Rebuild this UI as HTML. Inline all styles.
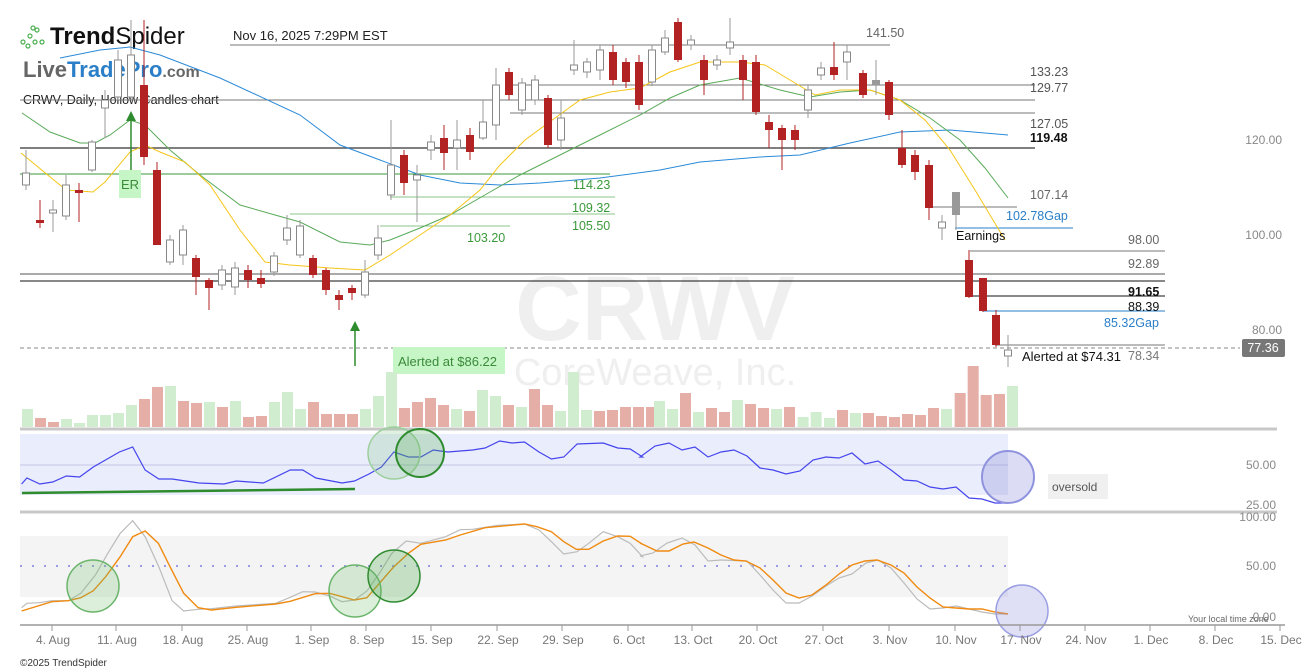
<!DOCTYPE html>
<html><head><meta charset="utf-8"><style>
html,body{margin:0;padding:0;background:#fff;}
svg{display:block;font-family:"Liberation Sans","DejaVu Sans",sans-serif;}
</style></head><body>
<svg id="s" width="1307" height="672" viewBox="0 0 1307 672" xmlns="http://www.w3.org/2000/svg">
<rect width="1307" height="672" fill="#fff"/>
<text x="655" y="340" font-size="92" font-weight="bold" fill="#efefef" text-anchor="middle">CRWV</text>
<text x="655" y="385" font-size="38" fill="#efefef" text-anchor="middle">CoreWeave, Inc.</text>
<g fill="none" stroke="#4caf50" stroke-width="1.2"><circle cx="23" cy="42" r="2"/><circle cx="30" cy="36" r="2"/><circle cx="37" cy="30" r="2"/><circle cx="28" cy="46" r="2"/><circle cx="35" cy="42" r="2"/><circle cx="42" cy="42" r="2"/><circle cx="33" cy="28" r="2"/></g>
<text x="50" y="44" font-size="24" font-weight="bold" fill="#111">Trend<tspan font-weight="normal">Spider</tspan></text>
<text x="233" y="40" font-size="13" fill="#222">Nov 16, 2025 7:29PM EST</text>
<text x="23" y="77" font-size="22" font-weight="bold" fill="#666">Live<tspan fill="#2a7fc8">TradePro</tspan><tspan font-size="16">.com</tspan></text>
<text x="23" y="104" font-size="12.5" fill="#222">CRWV, Daily, Hollow Candles chart</text>
<g id="g"></g>
</svg>
<script>
var g=document.getElementById('g'),h='';
function L(x1,y1,x2,y2,c,w,d){h+='<line x1="'+x1+'" y1="'+y1+'" x2="'+x2+'" y2="'+y2+'" stroke="'+c+'" stroke-width="'+(w||1)+'"'+(d?' stroke-dasharray="'+d+'"':'')+'/>';}
function T(x,y,t,c,s,a,b){h+='<text x="'+x+'" y="'+y+'" font-size="'+(s||12)+'" fill="'+c+'"'+(a?' text-anchor="'+a+'"':'')+(b?' font-weight="bold"':'')+'>'+t+'</text>';}
function P(pts,c,w){h+='<polyline fill="none" stroke="'+c+'" stroke-width="'+(w||1)+'" points="'+pts+'"/>';}
L(230,45,890,45,'#777');L(510,85,1035,85,'#777');L(20,100,1035,100,'#777');L(510,113,1035,113,'#777');
L(20,148,1035,148,'#555',1.5);L(20,174,610,174,'#3a9a3a');L(390,197,615,197,'#8bc48b');L(290,214,615,214,'#8bc48b');L(380,226,510,226,'#8bc48b');
L(930,207,1017,207,'#777');L(955,228,1073,228,'#2a7fc8');L(970,251,1165,251,'#777');L(20,274,1165,274,'#aaa',2);L(20,281,1165,281,'#111');
L(970,296,1165,296,'#111');L(983,311,1165,311,'#2a7fc8');L(995,345,1165,345,'#777');L(20,348,1240,348,'#888',1,'4,3');
P('60,58 100,50 130,47 160,55 220,78 300,115 340,145 380,160 420,175 460,183 500,185 540,183 600,178 660,170 700,162 760,157 800,155 850,143 900,132 950,130 1008,135','#2a8ad8');
P('22,113 50,132 80,143 95,143 110,135 130,120 145,125 170,150 200,175 240,205 275,215 300,222 340,242 370,245 390,240 420,228 450,215 490,192 520,175 560,155 600,135 640,115 670,98 700,85 740,78 780,90 810,97 840,92 870,90 900,100 930,118 960,140 985,168 1008,198','#5aaa5a');
P('21,153 66,190 93,192 105,182 130,152 145,145 160,152 185,162 210,185 240,230 265,262 290,265 330,268 365,270 390,255 420,235 450,215 480,190 500,165 525,140 555,118 580,100 610,92 640,88 670,72 700,62 740,62 765,65 790,80 815,95 840,90 870,90 900,100 925,120 950,150 975,190 1005,240','#f5c518');
var C=[[26,173,185,150,190,'h'],[40,220,223,200,228,'r'],[53,210,213,200,232,'h'],[66,185,216,175,220,'h'],[79,190,193,183,222,'r'],[92,142,170,140,172,'h'],[105,100,108,90,138,'h'],[118,60,97,50,100,'h'],[131,55,97,20,100,'h'],[144,85,157,20,165,'r'],[157,170,245,162,245,'r'],[170,240,262,235,265,'h'],[183,230,255,225,265,'h'],[196,258,277,255,295,'r'],[209,280,288,278,310,'r'],[222,270,285,265,290,'h'],[235,268,287,262,295,'h'],[248,270,280,265,288,'r'],[261,278,284,270,288,'r'],[274,256,272,252,276,'h'],[287,228,240,215,245,'h'],[300,226,255,220,258,'h'],[313,258,275,255,278,'r'],[326,270,290,268,295,'r'],[339,295,300,290,310,'r'],[352,288,293,285,300,'r'],[365,272,295,260,298,'h'],[378,238,255,225,260,'h'],[391,165,195,120,200,'h'],[404,155,183,150,195,'r'],[417,175,180,165,222,'h'],[431,142,150,135,160,'h'],[444,138,153,125,170,'r'],[457,140,148,120,170,'h'],[470,135,152,128,160,'r'],[483,122,138,100,140,'h'],[496,85,125,68,140,'h'],[509,72,95,68,100,'r'],[522,83,110,78,115,'h'],[535,80,100,75,105,'h'],[548,98,145,95,148,'r'],[561,118,140,100,150,'h'],[574,65,70,40,75,'h'],[587,62,72,58,78,'h'],[600,50,70,45,80,'h'],[613,52,80,45,85,'r'],[626,62,82,58,88,'r'],[639,62,105,55,110,'r'],[652,50,82,45,86,'h'],[665,38,52,30,55,'h'],[678,22,60,18,62,'r'],[691,40,45,35,50,'h'],[704,60,80,55,95,'r'],[717,60,65,55,70,'h'],[730,42,48,18,55,'h'],[743,60,80,55,100,'r'],[756,62,112,55,115,'r'],[769,122,130,115,148,'r'],[782,128,140,125,170,'r'],[795,130,140,125,150,'r'],[808,90,110,85,118,'h'],[821,68,75,62,80,'h'],[834,67,75,42,80,'r'],[847,52,62,45,80,'h'],[863,73,95,70,98,'r'],[876,80,85,60,95,'s'],[889,82,115,80,120,'r'],[902,148,165,130,168,'r'],[915,155,172,150,180,'r'],[929,165,208,160,220,'r'],[942,222,228,215,240,'h'],[956,192,215,192,230,'s'],[969,260,297,250,298,'r'],[983,278,311,278,312,'r'],[996,315,345,310,347,'r'],[1008,350,356,335,367,'h']];
C.forEach(function(c){var col=c[5]=='r'?'#b22222':'#999';L(c[0],c[3],c[0],c[4],col);
 if(c[5]=='h')h+='<rect x="'+(c[0]-3.5)+'" y="'+c[1]+'" width="7" height="'+Math.max(c[2]-c[1],2)+'" fill="#fff" stroke="#888"/>';
 else h+='<rect x="'+(c[0]-4)+'" y="'+c[1]+'" width="8" height="'+Math.max(c[2]-c[1],2)+'" fill="'+col+'"/>';});
L(131,175,131,118,'#2e8b2e',1.5);h+='<polygon points="126,121 136,121 131,111" fill="#2e8b2e"/>';
h+='<rect x="119" y="170" width="22" height="28" fill="#c6f5c6"/>';T(130,189,'ER','#3a8a3a',13,'middle');
L(355,366,355,328,'#2e8b2e',1.5);h+='<polygon points="350,331 360,331 355,321" fill="#2e8b2e"/>';
h+='<rect x="393" y="347" width="112" height="27" fill="#c6f5c6"/>';T(398,366,'Alerted at $86.22','#3a8a3a',13);
T(1022,361,'Alerted at $74.31','#111',13);T(956,240,'Earnings','#111',12.5);
T(866,37,'141.50','#666',12.5);T(1030,76,'133.23','#555',12.5);T(1030,92,'129.77','#555',12.5);T(1030,128,'127.05','#555',12.5);T(1030,142,'119.48','#111',12.5,0,1);
T(573,189,'114.23','#3a9a3a',12.5);T(572,212,'109.32','#3a9a3a',12.5);T(572,230,'105.50','#3a9a3a',12.5);T(467,242,'103.20','#3a9a3a',12.5);
T(1030,199,'107.14','#666',12.5);T(1006,220,'102.78<tspan>Gap</tspan>','#2a7fc8',12.5);
T(1128,244,'98.00','#666',12.5);T(1128,268,'92.89','#666',12.5);T(1128,296,'91.65','#111',12.5,0,1);T(1128,311,'88.39','#111',12.5);T(1104,327,'85.32Gap','#2a7fc8',12.5);T(1128,360,'78.34','#777',12.5);
T(1282,144,'120.00','#888',12,'end');T(1282,239,'100.00','#888',12,'end');T(1282,334,'80.00','#888',12,'end');
h+='<rect x="1242" y="339" width="43" height="18" rx="2" fill="#777"/>';T(1263,352,'77.36','#fff',12.5,'middle');
var V=[[409,'g'],[418,'r'],[422,'r'],[419,'g'],[423,'g'],[415,'g'],[415,'g'],[413,'g'],[405,'g'],[399,'r'],[387,'r'],[386,'g'],[401,'r'],[403,'r'],[402,'g'],[407,'r'],[401,'g'],[417,'r'],[416,'r'],[402,'g'],[392,'g'],[409,'g'],[402,'r'],[414,'r'],[414,'r'],[414,'r'],[409,'g'],[396,'g'],[372,'g'],[408,'r'],[402,'r'],[398,'r'],[405,'r'],[409,'g'],[411,'r'],[390,'g'],[396,'g'],[405,'r'],[407,'g'],[389,'r'],[405,'r'],[411,'g'],[372,'g'],[410,'g'],[411,'r'],[410,'r'],[407,'r'],[407,'r'],[407,'r']];
V.forEach(function(v,k){h+='<rect x="'+(22+13*k)+'" y="'+v[0]+'" width="11" height="'+(427-v[0])+'" fill="'+(v[1]=='g'?'#d0eecf':'#e5aea6')+'"/>';});
var V2=[[30,401,'g'],[69,409,'g'],[108,393,'r'],[147,412,'g'],[186,408,'r'],[225,412,'r'],[264,400,'g'],[303,404,'r'],[342,408,'r'],[381,409,'g'],[420,407,'r'],[461,417,'g'],[500,412,'g'],[540,418,'g'],[579,410,'r'],[618,413,'g'],[657,413,'r'],[696,416,'r'],[735,417,'r'],[774,414,'r'],[813,415,'r'],[852,408,'r'],[891,409,'g'],[932,393,'r'],[971,366,'r'],[1010,395,'r'],[1050,394,'r'],[1089,386,'g']];
V2.forEach(function(v){h+='<rect x="'+(640+v[0]/3+4)+'" y="'+v[1]+'" width="11" height="'+(427-v[1])+'" fill="'+(v[2]=='g'?'#d0eecf':'#e5aea6')+'"/>';});
L(20,429,1277,429,'#c8c8c8',3);L(20,512,1277,512,'#c8c8c8',3);
h+='<rect x="20" y="434" width="988" height="61" fill="#eaedfb"/>';L(20,465,1008,465,'#d6d9f0',2);
T(1276,469,'50.00','#888',12,'end');T(1276,509,'25.00','#888',12,'end');
L(22,493,355,489,'#2e8b2e',2.5);
var r1=[[52,484],[65,478],[96,484],[127,482],[160,476],[192,477],[225,467],[288,452],[320,447],[350,470],[383,479],[415,479],[480,483],[540,484],[570,481],[635,483],[700,470],[730,470],[762,478],[825,483],[855,481],[890,474],[920,467],[950,452],[985,457],[1015,457],[1045,450],[1080,452],[1140,450],[1170,448],[1205,441],[1235,443],[1265,442],[1300,452],[1330,459],[1360,457],[1392,444],[1455,443],[1490,448],[1520,449],[1550,457]].map(function(p){return (p[0]/2.412).toFixed(1)+','+p[1]}).join(' ');
P(r1+' 640,457 655,446 669,443 682,450 695,447 708,457 721,452 734,450 747,456 760,468 773,470 786,474 800,471 813,460 826,457 839,458 852,453 865,464 878,461 891,470 904,480 917,481 930,487 943,489 956,487 969,498 982,499 995,503 1008,503','#4444ee',1.2);
h+='<circle cx="394" cy="453" r="26" fill="rgba(120,190,120,0.22)" stroke="#9ccf9c" stroke-width="1.5"/>';
h+='<circle cx="420" cy="453" r="24" fill="rgba(80,170,80,0.25)" stroke="#2e8b2e" stroke-width="2"/>';
h+='<circle cx="1008" cy="477" r="26" fill="rgba(140,140,220,0.3)" stroke="#8f93de" stroke-width="2"/>';
h+='<rect x="1048" y="474" width="60" height="25" fill="#f0f0f0"/>';T(1052,491,'oversold','#555',12);
h+='<rect x="20" y="536" width="988" height="61" fill="#f4f4f4"/>';L(20,566,1008,566,'#9a9ae6',2,'2,10');
T(1276,521,'100.00','#888',12,'end');T(1276,570,'50.00','#888',12,'end');T(1276,621,'0.00','#888',12,'end');
function cv(a){return a.map(function(p){return (p[0]/2.412).toFixed(1)+','+(p[1]/3+380).toFixed(1)}).join(' ');}
var gr=cv([[52,683],[65,670],[95,668],[125,662],[165,662],[195,640],[230,585],[260,520],[290,460],[320,422],[350,470],[383,560],[415,662],[443,693],[478,688],[510,686],[570,678],[665,670],[700,652],[730,635],[760,636],[795,648],[825,665],[855,660],[885,633],[915,580],[945,520],[980,483],[1015,490],[1075,470],[1110,449],[1140,448],[1200,436],[1265,432],[1300,450],[1330,485],[1360,522],[1392,515],[1420,490],[1455,455],[1490,470],[1520,490],[1550,530]]);
P(gr+' 640,556 653,553 667,543 682,538 695,545 708,561 721,560 747,561 760,575 773,590 786,603 799,603 812,596 826,586 839,578 852,574 866,563 878,560 891,568 904,583 917,599 930,609 943,608 956,606 969,609 982,612 995,614 1008,614','#bbb',1.2);
var or=cv([[52,693],[125,665],[165,662],[195,653],[225,632],[255,590],[290,530],[320,470],[350,453],[382,490],[410,560],[443,640],[478,683],[510,690],[570,682],[665,672],[700,664],[760,641],[795,640],[855,660],[885,653],[915,610],[950,560],[985,520],[1015,493],[1075,480],[1110,465],[1170,443],[1230,436],[1265,432],[1295,440],[1330,455],[1360,485],[1390,508],[1420,508],[1455,483],[1490,468],[1520,469],[1550,493]]);
P(or+' 640,543 657,551 669,551 683,544 694,542 708,548 721,555 734,560 746,561 760,568 773,580 786,593 799,598 812,595 826,585 839,574 852,565 865,561 877,560 891,565 904,573 917,587 930,598 943,607 956,608 969,609 982,609 995,612 1008,614','#f08a10',1.4);
[[93,586],[355,591]].forEach(function(c){h+='<circle cx="'+c[0]+'" cy="'+c[1]+'" r="26" fill="rgba(110,190,110,0.25)" stroke="#6ab46a" stroke-width="1.5"/>';});
h+='<circle cx="394" cy="576" r="26" fill="rgba(90,175,90,0.3)" stroke="#2e8b2e" stroke-width="1.5"/>';
h+='<circle cx="1022" cy="611" r="26" fill="rgba(150,150,225,0.3)" stroke="#9a9ee2" stroke-width="1.5"/>';
T(1188,622,'Your local time zone','#666',9);
L(20,625,1285,625,'#999',1.5);
var X=[[52,'4. Aug'],[116,'11. Aug'],[182,'18. Aug'],[247,'25. Aug'],[311,'1. Sep'],[366,'8. Sep'],[431,'15. Sep'],[497,'22. Sep'],[562,'29. Sep'],[628,'6. Oct'],[692,'13. Oct'],[757,'20. Oct'],[823,'27. Oct'],[889,'3. Nov'],[955,'10. Nov'],[1020,'17. Nov'],[1085,'24. Nov'],[1150,'1. Dec'],[1215,'8. Dec'],[1280,'15. Dec']];
X.forEach(function(x){L(x[0],625,x[0],631,'#999');T(x[0]+1,644,x[1],'#777',12,'middle');});
T(20,666,'©2025 TrendSpider','#333',10);
g.innerHTML=h;
</script>
</body></html>
